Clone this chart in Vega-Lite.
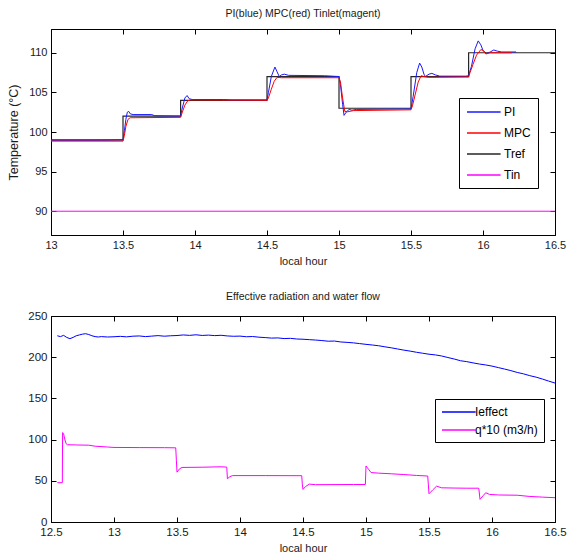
{
  "$schema": "https://vega.github.io/schema/vega-lite/v6.json",
  "background": "white",
  "padding": {"left": 7, "top": 8, "right": 0, "bottom": 0},
  "spacing": 24,
  "resolve": {"scale": {"color": "independent"}, "legend": {"color": "independent"}},
  "vconcat": [
    {
      "width": 504,
      "height": 206,
      "title": {"text": "PI(blue) MPC(red) Tinlet(magent)", "offset": 9},
      "data": {"values": [
        {"series": "Tref", "hour": 13.0, "value": 99},
        {"series": "Tref", "hour": 13.5, "value": 102},
        {"series": "Tref", "hour": 13.9, "value": 104},
        {"series": "Tref", "hour": 14.5, "value": 107},
        {"series": "Tref", "hour": 15.0, "value": 103},
        {"series": "Tref", "hour": 15.5, "value": 107},
        {"series": "Tref", "hour": 15.9, "value": 110},
        {"series": "Tref", "hour": 16.5, "value": 110},
        {"series": "Tin", "hour": 13.0, "value": 90},
        {"series": "Tin", "hour": 16.5, "value": 90},
        {"series": "PI", "hour": 13.0, "value": 98.95},
        {"series": "PI", "hour": 13.35, "value": 98.95},
        {"series": "PI", "hour": 13.5, "value": 99.0},
        {"series": "PI", "hour": 13.51, "value": 100.2},
        {"series": "PI", "hour": 13.52, "value": 101.6},
        {"series": "PI", "hour": 13.53, "value": 102.5},
        {"series": "PI", "hour": 13.54, "value": 102.6},
        {"series": "PI", "hour": 13.55, "value": 102.3},
        {"series": "PI", "hour": 13.57, "value": 102.2},
        {"series": "PI", "hour": 13.7, "value": 102.2},
        {"series": "PI", "hour": 13.72, "value": 102.05},
        {"series": "PI", "hour": 13.9, "value": 102.0},
        {"series": "PI", "hour": 13.91, "value": 102.9},
        {"series": "PI", "hour": 13.93, "value": 104.3},
        {"series": "PI", "hour": 13.945, "value": 104.6},
        {"series": "PI", "hour": 13.96, "value": 104.2},
        {"series": "PI", "hour": 13.98, "value": 104.1},
        {"series": "PI", "hour": 14.2, "value": 104.1},
        {"series": "PI", "hour": 14.25, "value": 104.05},
        {"series": "PI", "hour": 14.5, "value": 104.05},
        {"series": "PI", "hour": 14.51, "value": 105.0},
        {"series": "PI", "hour": 14.53, "value": 107.0},
        {"series": "PI", "hour": 14.555, "value": 108.2},
        {"series": "PI", "hour": 14.57, "value": 107.6},
        {"series": "PI", "hour": 14.585, "value": 107.0},
        {"series": "PI", "hour": 14.6, "value": 107.2},
        {"series": "PI", "hour": 14.62, "value": 107.3},
        {"series": "PI", "hour": 14.65, "value": 107.15},
        {"series": "PI", "hour": 14.9, "value": 107.1},
        {"series": "PI", "hour": 15.0, "value": 107.0},
        {"series": "PI", "hour": 15.01, "value": 106.0},
        {"series": "PI", "hour": 15.025, "value": 103.5},
        {"series": "PI", "hour": 15.035, "value": 102.1},
        {"series": "PI", "hour": 15.05, "value": 102.5},
        {"series": "PI", "hour": 15.07, "value": 102.85},
        {"series": "PI", "hour": 15.09, "value": 102.75},
        {"series": "PI", "hour": 15.12, "value": 102.85},
        {"series": "PI", "hour": 15.45, "value": 102.9},
        {"series": "PI", "hour": 15.5, "value": 102.9},
        {"series": "PI", "hour": 15.515, "value": 104.5},
        {"series": "PI", "hour": 15.54, "value": 107.5},
        {"series": "PI", "hour": 15.56, "value": 108.7},
        {"series": "PI", "hour": 15.575, "value": 108.2},
        {"series": "PI", "hour": 15.59, "value": 107.3},
        {"series": "PI", "hour": 15.6, "value": 107.0},
        {"series": "PI", "hour": 15.625, "value": 107.3},
        {"series": "PI", "hour": 15.645, "value": 107.4},
        {"series": "PI", "hour": 15.67, "value": 107.2},
        {"series": "PI", "hour": 15.7, "value": 107.05},
        {"series": "PI", "hour": 15.88, "value": 107.05},
        {"series": "PI", "hour": 15.9, "value": 107.1},
        {"series": "PI", "hour": 15.92, "value": 108.3},
        {"series": "PI", "hour": 15.945, "value": 110.5},
        {"series": "PI", "hour": 15.967, "value": 111.5},
        {"series": "PI", "hour": 15.985, "value": 111.0},
        {"series": "PI", "hour": 16.0, "value": 110.3},
        {"series": "PI", "hour": 16.025, "value": 109.9},
        {"series": "PI", "hour": 16.05, "value": 110.1},
        {"series": "PI", "hour": 16.075, "value": 110.35},
        {"series": "PI", "hour": 16.1, "value": 110.2},
        {"series": "PI", "hour": 16.13, "value": 110.1},
        {"series": "PI", "hour": 16.23, "value": 110.1},
        {"series": "MPC", "hour": 13.0, "value": 98.85},
        {"series": "MPC", "hour": 13.5, "value": 98.85},
        {"series": "MPC", "hour": 13.51, "value": 99.6},
        {"series": "MPC", "hour": 13.52, "value": 100.7},
        {"series": "MPC", "hour": 13.535, "value": 101.6},
        {"series": "MPC", "hour": 13.55, "value": 101.8},
        {"series": "MPC", "hour": 13.9, "value": 101.85},
        {"series": "MPC", "hour": 13.91, "value": 102.4},
        {"series": "MPC", "hour": 13.93, "value": 103.4},
        {"series": "MPC", "hour": 13.95, "value": 103.95},
        {"series": "MPC", "hour": 13.97, "value": 104.05},
        {"series": "MPC", "hour": 14.5, "value": 104.0},
        {"series": "MPC", "hour": 14.51, "value": 104.3},
        {"series": "MPC", "hour": 14.53, "value": 105.4},
        {"series": "MPC", "hour": 14.55, "value": 106.4},
        {"series": "MPC", "hour": 14.57, "value": 106.9},
        {"series": "MPC", "hour": 14.6, "value": 106.85},
        {"series": "MPC", "hour": 15.0, "value": 106.85},
        {"series": "MPC", "hour": 15.01, "value": 106.3},
        {"series": "MPC", "hour": 15.025, "value": 104.3},
        {"series": "MPC", "hour": 15.04, "value": 102.6},
        {"series": "MPC", "hour": 15.06, "value": 102.55},
        {"series": "MPC", "hour": 15.1, "value": 102.7},
        {"series": "MPC", "hour": 15.5, "value": 102.8},
        {"series": "MPC", "hour": 15.51, "value": 103.3},
        {"series": "MPC", "hour": 15.53, "value": 104.8},
        {"series": "MPC", "hour": 15.55, "value": 106.3},
        {"series": "MPC", "hour": 15.57, "value": 107.1},
        {"series": "MPC", "hour": 15.59, "value": 107.0},
        {"series": "MPC", "hour": 15.62, "value": 106.9},
        {"series": "MPC", "hour": 15.9, "value": 106.95},
        {"series": "MPC", "hour": 15.91, "value": 107.5},
        {"series": "MPC", "hour": 15.93, "value": 108.5},
        {"series": "MPC", "hour": 15.955, "value": 109.7},
        {"series": "MPC", "hour": 15.985, "value": 110.4},
        {"series": "MPC", "hour": 16.0, "value": 110.3},
        {"series": "MPC", "hour": 16.02, "value": 109.85},
        {"series": "MPC", "hour": 16.05, "value": 110.0},
        {"series": "MPC", "hour": 16.2, "value": 110.0}
      ]},
      "layer": [
        {
          "transform": [{"filter": "datum.series === 'Tref'"}],
          "mark": {"type": "line", "interpolate": "step-after", "strokeWidth": 1.2},
          "encoding": {
            "x": {"field": "hour", "type": "quantitative", "scale": {"domain": [13, 16.5], "nice": false, "zero": false},
                  "axis": {"title": "local hour", "format": "~g", "values": [13, 13.5, 14, 14.5, 15, 15.5, 16, 16.5]}},
            "y": {"field": "value", "type": "quantitative", "scale": {"domain": [87, 113], "nice": false, "zero": false},
                  "axis": {"title": "Temperature (°C)", "format": "d", "values": [90, 95, 100, 105, 110], "titleFontSize": 12.5, "titlePadding": 8}},
            "color": {"field": "series", "type": "nominal",
                      "scale": {"domain": ["PI", "MPC", "Tref", "Tin"], "range": ["#1a1aff", "#ff0000", "#262626", "#ff00ff"]},
                      "legend": {"orient": "none", "legendX": 408, "legendY": 69, "title": null,
                                 "strokeColor": "black", "fillColor": "white", "padding": 7,
                                 "symbolType": "M-1,0H4.6", "symbolSize": 144, "symbolStrokeWidth": 1.3,
                                 "labelOffset": 24, "rowPadding": 8, "labelFontSize": 12, "labelColor": "black"}}
          }
        },
        {
          "transform": [{"filter": "datum.series !== 'Tref'"}],
          "mark": {"type": "line", "strokeWidth": 1},
          "encoding": {
            "x": {"field": "hour", "type": "quantitative", "axis": null},
            "y": {"field": "value", "type": "quantitative", "axis": null},
            "color": {"field": "series", "type": "nominal"}
          }
        },
        {
          "mark": {"type": "point", "opacity": 0},
          "encoding": {
            "x": {"field": "hour", "type": "quantitative", "axis": {"orient": "top", "labels": false, "title": null, "domain": false, "values": [13, 13.5, 14, 14.5, 15, 15.5, 16, 16.5]}},
            "y": {"field": "value", "type": "quantitative", "axis": {"orient": "right", "labels": false, "title": null, "domain": false, "values": [90, 95, 100, 105, 110]}}
          }
        }
      ],
      "resolve": {"axis": {"x": "independent", "y": "independent"}}
    },
    {
      "width": 504,
      "height": 206,
      "title": {"text": "Effective radiation and water flow", "offset": 8},
      "data": {"values": [
        {"series": "Ieffect", "hour": 12.55, "value": 226},
        {"series": "Ieffect", "hour": 12.575, "value": 225},
        {"series": "Ieffect", "hour": 12.6, "value": 226.5},
        {"series": "Ieffect", "hour": 12.625, "value": 224},
        {"series": "Ieffect", "hour": 12.65, "value": 222.5},
        {"series": "Ieffect", "hour": 12.675, "value": 224},
        {"series": "Ieffect", "hour": 12.7, "value": 226},
        {"series": "Ieffect", "hour": 12.725, "value": 227},
        {"series": "Ieffect", "hour": 12.75, "value": 228},
        {"series": "Ieffect", "hour": 12.775, "value": 228.5},
        {"series": "Ieffect", "hour": 12.8, "value": 227.5},
        {"series": "Ieffect", "hour": 12.825, "value": 226},
        {"series": "Ieffect", "hour": 12.85, "value": 225},
        {"series": "Ieffect", "hour": 12.875, "value": 224.5},
        {"series": "Ieffect", "hour": 12.9, "value": 225},
        {"series": "Ieffect", "hour": 12.95, "value": 224.5},
        {"series": "Ieffect", "hour": 13.0, "value": 224.8},
        {"series": "Ieffect", "hour": 13.05, "value": 225.3},
        {"series": "Ieffect", "hour": 13.1, "value": 224.7},
        {"series": "Ieffect", "hour": 13.15, "value": 225.5},
        {"series": "Ieffect", "hour": 13.2, "value": 225.8},
        {"series": "Ieffect", "hour": 13.25, "value": 225},
        {"series": "Ieffect", "hour": 13.3, "value": 225.6},
        {"series": "Ieffect", "hour": 13.35, "value": 226.2},
        {"series": "Ieffect", "hour": 13.4, "value": 225.5},
        {"series": "Ieffect", "hour": 13.45, "value": 226},
        {"series": "Ieffect", "hour": 13.5, "value": 226.3},
        {"series": "Ieffect", "hour": 13.55, "value": 227},
        {"series": "Ieffect", "hour": 13.6, "value": 226.5},
        {"series": "Ieffect", "hour": 13.65, "value": 227.2},
        {"series": "Ieffect", "hour": 13.7, "value": 226.4},
        {"series": "Ieffect", "hour": 13.75, "value": 226.8},
        {"series": "Ieffect", "hour": 13.8, "value": 226.2},
        {"series": "Ieffect", "hour": 13.85, "value": 226.6},
        {"series": "Ieffect", "hour": 13.9, "value": 225.8},
        {"series": "Ieffect", "hour": 13.95, "value": 225.4},
        {"series": "Ieffect", "hour": 14.0, "value": 225.6},
        {"series": "Ieffect", "hour": 14.05, "value": 224.8},
        {"series": "Ieffect", "hour": 14.1, "value": 225.1},
        {"series": "Ieffect", "hour": 14.15, "value": 224.3},
        {"series": "Ieffect", "hour": 14.2, "value": 223.8},
        {"series": "Ieffect", "hour": 14.25, "value": 223.2},
        {"series": "Ieffect", "hour": 14.3, "value": 223.4},
        {"series": "Ieffect", "hour": 14.35, "value": 222.6},
        {"series": "Ieffect", "hour": 14.4, "value": 222.9},
        {"series": "Ieffect", "hour": 14.45, "value": 222.1},
        {"series": "Ieffect", "hour": 14.5, "value": 221.8},
        {"series": "Ieffect", "hour": 14.55, "value": 221.3},
        {"series": "Ieffect", "hour": 14.6, "value": 220.8},
        {"series": "Ieffect", "hour": 14.65, "value": 220.2},
        {"series": "Ieffect", "hour": 14.7, "value": 219.4},
        {"series": "Ieffect", "hour": 14.75, "value": 219.6},
        {"series": "Ieffect", "hour": 14.8, "value": 218.5},
        {"series": "Ieffect", "hour": 14.85, "value": 218.0},
        {"series": "Ieffect", "hour": 14.9, "value": 217.4},
        {"series": "Ieffect", "hour": 14.95, "value": 216.5},
        {"series": "Ieffect", "hour": 15.0, "value": 215.6},
        {"series": "Ieffect", "hour": 15.05, "value": 214.8},
        {"series": "Ieffect", "hour": 15.1, "value": 213.9},
        {"series": "Ieffect", "hour": 15.15, "value": 212.6},
        {"series": "Ieffect", "hour": 15.2, "value": 211.4},
        {"series": "Ieffect", "hour": 15.25, "value": 210.0},
        {"series": "Ieffect", "hour": 15.3, "value": 208.6},
        {"series": "Ieffect", "hour": 15.35, "value": 207.4},
        {"series": "Ieffect", "hour": 15.4, "value": 206.0},
        {"series": "Ieffect", "hour": 15.45, "value": 204.8},
        {"series": "Ieffect", "hour": 15.5, "value": 203.6},
        {"series": "Ieffect", "hour": 15.55, "value": 202.8},
        {"series": "Ieffect", "hour": 15.6, "value": 201.5},
        {"series": "Ieffect", "hour": 15.65, "value": 199.6},
        {"series": "Ieffect", "hour": 15.7, "value": 197.8},
        {"series": "Ieffect", "hour": 15.75, "value": 195.7},
        {"series": "Ieffect", "hour": 15.8, "value": 194.6},
        {"series": "Ieffect", "hour": 15.85, "value": 193.1},
        {"series": "Ieffect", "hour": 15.9, "value": 191.7},
        {"series": "Ieffect", "hour": 15.95, "value": 190.6},
        {"series": "Ieffect", "hour": 16.0, "value": 189.2},
        {"series": "Ieffect", "hour": 16.05, "value": 187.4},
        {"series": "Ieffect", "hour": 16.1, "value": 185.6},
        {"series": "Ieffect", "hour": 16.15, "value": 183.7},
        {"series": "Ieffect", "hour": 16.2, "value": 181.5},
        {"series": "Ieffect", "hour": 16.25, "value": 179.8},
        {"series": "Ieffect", "hour": 16.3, "value": 177.6},
        {"series": "Ieffect", "hour": 16.35, "value": 175.8},
        {"series": "Ieffect", "hour": 16.4, "value": 173.5},
        {"series": "Ieffect", "hour": 16.45, "value": 171.0},
        {"series": "Ieffect", "hour": 16.5, "value": 168.6},
        {"series": "q*10 (m3/h)", "hour": 12.55, "value": 47.7},
        {"series": "q*10 (m3/h)", "hour": 12.59, "value": 47.7},
        {"series": "q*10 (m3/h)", "hour": 12.592, "value": 108.5},
        {"series": "q*10 (m3/h)", "hour": 12.6, "value": 107},
        {"series": "q*10 (m3/h)", "hour": 12.61, "value": 100},
        {"series": "q*10 (m3/h)", "hour": 12.62, "value": 95},
        {"series": "q*10 (m3/h)", "hour": 12.63, "value": 93.8},
        {"series": "q*10 (m3/h)", "hour": 12.7, "value": 93.5},
        {"series": "q*10 (m3/h)", "hour": 12.8, "value": 93.2},
        {"series": "q*10 (m3/h)", "hour": 12.85, "value": 92},
        {"series": "q*10 (m3/h)", "hour": 12.95, "value": 91},
        {"series": "q*10 (m3/h)", "hour": 13.0, "value": 90.5},
        {"series": "q*10 (m3/h)", "hour": 13.2, "value": 90.3},
        {"series": "q*10 (m3/h)", "hour": 13.4, "value": 90.2},
        {"series": "q*10 (m3/h)", "hour": 13.49, "value": 90},
        {"series": "q*10 (m3/h)", "hour": 13.495, "value": 75},
        {"series": "q*10 (m3/h)", "hour": 13.5, "value": 60.5},
        {"series": "q*10 (m3/h)", "hour": 13.52, "value": 64.5},
        {"series": "q*10 (m3/h)", "hour": 13.54, "value": 66.2},
        {"series": "q*10 (m3/h)", "hour": 13.7, "value": 66.5},
        {"series": "q*10 (m3/h)", "hour": 13.85, "value": 67},
        {"series": "q*10 (m3/h)", "hour": 13.895, "value": 66.6},
        {"series": "q*10 (m3/h)", "hour": 13.9, "value": 52.5},
        {"series": "q*10 (m3/h)", "hour": 13.92, "value": 55},
        {"series": "q*10 (m3/h)", "hour": 13.94, "value": 56.3},
        {"series": "q*10 (m3/h)", "hour": 14.2, "value": 56.3},
        {"series": "q*10 (m3/h)", "hour": 14.49, "value": 56.2},
        {"series": "q*10 (m3/h)", "hour": 14.495, "value": 45},
        {"series": "q*10 (m3/h)", "hour": 14.5, "value": 39.5},
        {"series": "q*10 (m3/h)", "hour": 14.52, "value": 43},
        {"series": "q*10 (m3/h)", "hour": 14.55, "value": 46},
        {"series": "q*10 (m3/h)", "hour": 14.6, "value": 45.3},
        {"series": "q*10 (m3/h)", "hour": 14.9, "value": 45.5},
        {"series": "q*10 (m3/h)", "hour": 14.995, "value": 45.5},
        {"series": "q*10 (m3/h)", "hour": 15.0, "value": 68},
        {"series": "q*10 (m3/h)", "hour": 15.02, "value": 64},
        {"series": "q*10 (m3/h)", "hour": 15.04, "value": 60},
        {"series": "q*10 (m3/h)", "hour": 15.1, "value": 59.3},
        {"series": "q*10 (m3/h)", "hour": 15.2, "value": 58.5},
        {"series": "q*10 (m3/h)", "hour": 15.3, "value": 57.6},
        {"series": "q*10 (m3/h)", "hour": 15.4, "value": 56.5},
        {"series": "q*10 (m3/h)", "hour": 15.49, "value": 55.8},
        {"series": "q*10 (m3/h)", "hour": 15.495, "value": 45},
        {"series": "q*10 (m3/h)", "hour": 15.5, "value": 34.3},
        {"series": "q*10 (m3/h)", "hour": 15.53, "value": 39},
        {"series": "q*10 (m3/h)", "hour": 15.56, "value": 43.5},
        {"series": "q*10 (m3/h)", "hour": 15.6, "value": 41.5},
        {"series": "q*10 (m3/h)", "hour": 15.7, "value": 41.2},
        {"series": "q*10 (m3/h)", "hour": 15.8, "value": 41},
        {"series": "q*10 (m3/h)", "hour": 15.895, "value": 41},
        {"series": "q*10 (m3/h)", "hour": 15.905, "value": 27.5},
        {"series": "q*10 (m3/h)", "hour": 15.93, "value": 32},
        {"series": "q*10 (m3/h)", "hour": 15.95, "value": 35.5},
        {"series": "q*10 (m3/h)", "hour": 15.98, "value": 33.5},
        {"series": "q*10 (m3/h)", "hour": 16.05, "value": 32.8},
        {"series": "q*10 (m3/h)", "hour": 16.2, "value": 32.5},
        {"series": "q*10 (m3/h)", "hour": 16.3, "value": 31},
        {"series": "q*10 (m3/h)", "hour": 16.4, "value": 30.2},
        {"series": "q*10 (m3/h)", "hour": 16.5, "value": 29.5}
      ]},
      "layer": [
        {
          "mark": {"type": "line", "strokeWidth": 1},
          "encoding": {
            "x": {"field": "hour", "type": "quantitative", "scale": {"domain": [12.5, 16.5], "nice": false, "zero": false},
                  "axis": {"title": "local hour", "format": "~g", "labelFontSize": 11.5, "values": [12.5, 13, 13.5, 14, 14.5, 15, 15.5, 16, 16.5]}},
            "y": {"field": "value", "type": "quantitative", "scale": {"domain": [0, 250], "nice": false},
                  "axis": {"title": null, "format": "d", "labelFontSize": 11.5, "values": [0, 50, 100, 150, 200, 250]}},
            "color": {"field": "series", "type": "nominal",
                      "scale": {"domain": ["Ieffect", "q*10 (m3/h)"], "range": ["#0000ff", "#ff00ff"]},
                      "legend": {"orient": "none", "legendX": 384, "legendY": 83, "title": null,
                                 "strokeColor": "black", "fillColor": "white", "padding": 6,
                                 "symbolType": "M-1,0H4.6", "symbolSize": 144, "symbolStrokeWidth": 1.3,
                                 "labelOffset": 20, "rowPadding": 5, "labelFontSize": 12, "labelColor": "black"}}
          }
        },
        {
          "mark": {"type": "point", "opacity": 0},
          "encoding": {
            "x": {"field": "hour", "type": "quantitative", "axis": {"orient": "top", "labels": false, "title": null, "domain": false, "values": [12.5, 13, 13.5, 14, 14.5, 15, 15.5, 16, 16.5]}},
            "y": {"field": "value", "type": "quantitative", "axis": {"orient": "right", "labels": false, "title": null, "domain": false, "values": [0, 50, 100, 150, 200, 250]}}
          }
        }
      ],
      "resolve": {"axis": {"x": "independent", "y": "independent"}}
    }
  ],
  "config": {
    "font": "Liberation Sans",
    "view": {"stroke": "black", "strokeWidth": 1},
    "title": {"font": "Liberation Sans", "fontSize": 10.5, "fontWeight": "normal", "color": "#1a1a1a"},
    "legend": {"labelFont": "Liberation Sans"},
    "axis": {
      "grid": false,
      "domainColor": "black",
      "tickColor": "black",
      "tickSize": -5,
      "labelFont": "Liberation Sans",
      "labelFontSize": 11,
      "labelColor": "#1a1a1a",
      "labelPadding": 9,
      "labelFlush": false,
      "labelOverlap": false,
      "titleFont": "Liberation Sans",
      "titleFontSize": 11,
      "titleFontWeight": "normal",
      "titleColor": "#1a1a1a",
      "titlePadding": 5
    }
  }
}
